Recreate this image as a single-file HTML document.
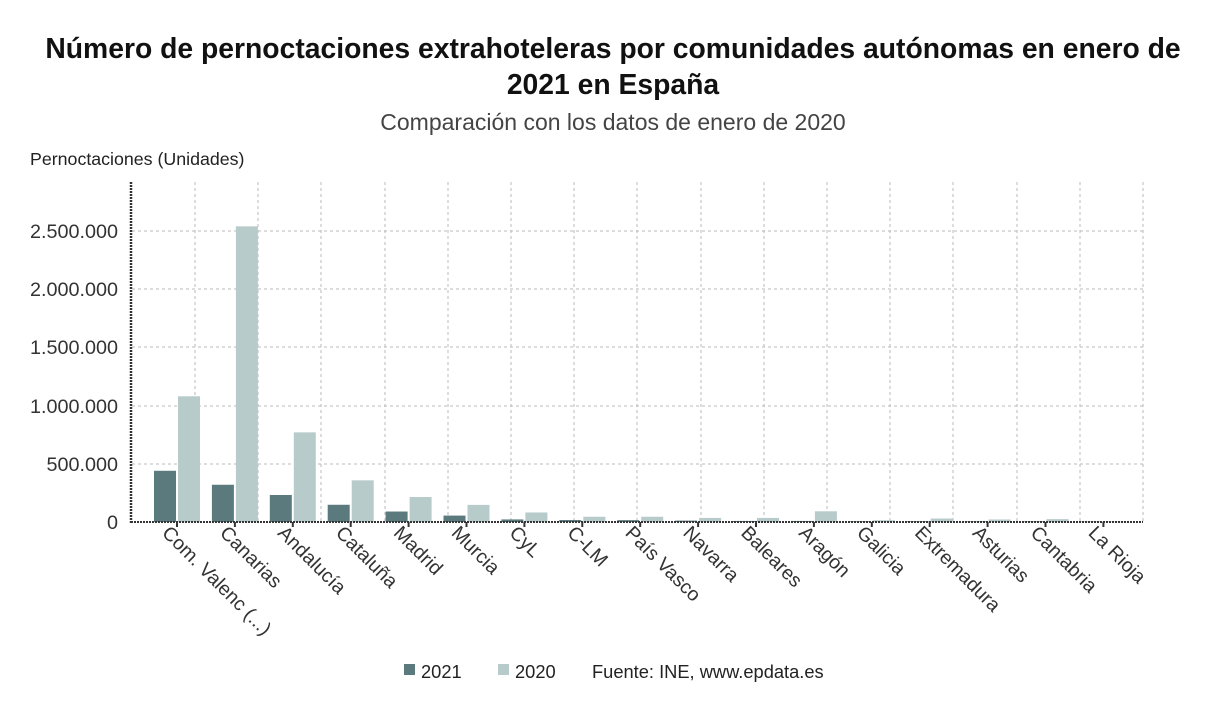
<!DOCTYPE html>
<html><head><meta charset="utf-8"><style>
html,body{margin:0;padding:0;background:#fff;}
svg{display:block;font-family:"Liberation Sans","DejaVu Sans",sans-serif;}
</style></head><body>
<svg width="1226" height="720" viewBox="0 0 1226 720" xmlns="http://www.w3.org/2000/svg">
<text x="613" y="58" text-anchor="middle" font-size="28.3" font-weight="bold" fill="#111">Número de pernoctaciones extrahoteleras por comunidades autónomas en enero de</text>
<text x="613" y="94" text-anchor="middle" font-size="28.3" font-weight="bold" fill="#111">2021 en España</text>
<text x="613" y="130" text-anchor="middle" font-size="23" fill="#444">Comparación con los datos de enero de 2020</text>
<text x="30" y="165" font-size="17.8" fill="#222">Pernoctaciones (Unidades)</text>
<g stroke="#bbb" stroke-width="1" stroke-dasharray="3,3">
<line x1="132" y1="231" x2="1143" y2="231"/><line x1="132" y1="289" x2="1143" y2="289"/>
<line x1="132" y1="347" x2="1143" y2="347"/><line x1="132" y1="406" x2="1143" y2="406"/>
<line x1="132" y1="464" x2="1143" y2="464"/>
<line x1="195" y1="182" x2="195" y2="522"/><line x1="258" y1="182" x2="258" y2="522"/>
<line x1="321" y1="182" x2="321" y2="522"/><line x1="385" y1="182" x2="385" y2="522"/>
<line x1="448" y1="182" x2="448" y2="522"/><line x1="511" y1="182" x2="511" y2="522"/>
<line x1="574" y1="182" x2="574" y2="522"/><line x1="637" y1="182" x2="637" y2="522"/>
<line x1="701" y1="182" x2="701" y2="522"/><line x1="764" y1="182" x2="764" y2="522"/>
<line x1="827" y1="182" x2="827" y2="522"/><line x1="890" y1="182" x2="890" y2="522"/>
<line x1="953" y1="182" x2="953" y2="522"/><line x1="1017" y1="182" x2="1017" y2="522"/>
<line x1="1080" y1="182" x2="1080" y2="522"/><line x1="1143" y1="182" x2="1143" y2="522"/>
</g>
<g font-size="19.8" fill="#333" text-anchor="end">
<text x="118" y="238">2.500.000</text><text x="118" y="296">2.000.000</text>
<text x="118" y="354">1.500.000</text><text x="118" y="413">1.000.000</text>
<text x="118" y="471">500.000</text><text x="118" y="529">0</text>
</g>
<g id="bars"></g>
<line x1="131" y1="182" x2="131" y2="523" stroke="#333" stroke-width="2.5" stroke-dasharray="2,1"/>
<line x1="131" y1="522" x2="1143" y2="522" stroke="#333" stroke-width="2" stroke-dasharray="2,1"/>
<g id="labels" font-size="19.5" fill="#333"></g>
<rect x="404" y="664" width="11" height="11" fill="#5b7a7d"/>
<text x="421" y="678" font-size="18.3" fill="#222">2021</text>
<rect x="498" y="664" width="11" height="11" fill="#b8cbcb"/>
<text x="515" y="678" font-size="18.3" fill="#222">2020</text>
<text x="592" y="678" font-size="18.3" fill="#222">Fuente: INE, www.epdata.es</text>
<script>
var names=["Com. Valenc (...)","Canarias","Andalucía","Cataluña","Madrid","Murcia","CyL","C-LM","País Vasco","Navarra","Baleares","Aragón","Galicia","Extremadura","Asturias","Cantabria","La Rioja"];
var a=[440000,320000,232000,148000,90000,55000,22000,17000,16000,12000,9000,9000,6000,6000,5000,5000,3000];
var b=[1080000,2540000,770000,358000,215000,147000,82000,45000,45000,35000,35000,92000,15000,30000,22000,25000,5000];
var ns="http://www.w3.org/2000/svg",g=document.getElementById("bars"),L=document.getElementById("labels");
function r(x,v,c){var h=v/500000*58.2;var e=document.createElementNS(ns,"rect");e.setAttribute("x",x);e.setAttribute("y",522-h);e.setAttribute("width",22);e.setAttribute("height",h);e.setAttribute("fill",c);g.appendChild(e);}
for(var i=0;i<17;i++){var c=177+57.9*i;r(c-23,a[i],"#5b7a7d");r(c+1,b[i],"#b8cbcb");
var t=document.createElementNS(ns,"line");t.setAttribute("x1",c);t.setAttribute("x2",c);t.setAttribute("y1",522);t.setAttribute("y2",527);t.setAttribute("stroke","#333");t.setAttribute("stroke-width","2");g.appendChild(t);
var tx=document.createElementNS(ns,"text");tx.setAttribute("transform","translate("+(c-16)+",534) rotate(45)");tx.textContent=names[i];L.appendChild(tx);}
</script>
</svg>
</body></html>
